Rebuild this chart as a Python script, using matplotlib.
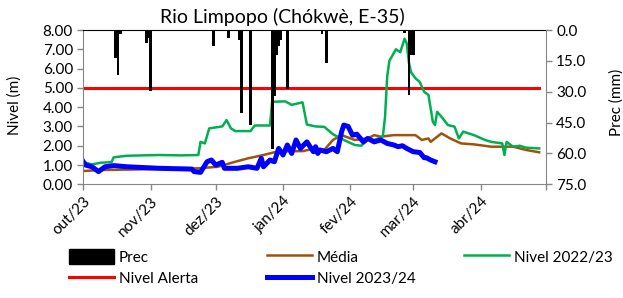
import pandas as pd
import matplotlib
matplotlib.use("Agg")
import matplotlib.pyplot as plt
from matplotlib.patches import Patch
from matplotlib.lines import Line2D
from matplotlib.ticker import FormatStrFormatter

plt.rcParams['font.family'] = ['Lato', 'DejaVu Sans']

# precipitation (mm), hanging bars on the inverted right axis
prec_dates = ['2023-10-16', '2023-10-17', '2023-10-18', '2023-10-30', '2023-10-31',
              '2023-11-01', '2023-11-30', '2023-12-07', '2023-12-12', '2023-12-13',
              '2023-12-17', '2023-12-27', '2023-12-28', '2023-12-29', '2023-12-30',
              '2023-12-31', '2024-01-03', '2024-01-19', '2024-01-21', '2024-02-26',
              '2024-02-28', '2024-02-29', '2024-03-01']
prec_mm = [13.5, 22.0, 2.0, 6.5, 4.0,
           29.5, 8.0, 4.0, 5.0, 40.5,
           46.0, 58.0, 32.0, 12.0, 8.0,
           5.0, 28.5, 2.0, 16.0, 1.5,
           31.5, 12.0, 12.0]

# Média
media_dates = ['2023-10-01', '2023-10-09', '2023-11-05', '2023-11-23', '2023-12-02',
               '2023-12-10', '2023-12-16', '2023-12-23', '2023-12-29', '2024-01-04',
               '2024-01-10', '2024-01-16', '2024-01-20', '2024-01-24', '2024-01-28',
               '2024-02-03', '2024-02-09', '2024-02-12', '2024-02-15', '2024-02-21',
               '2024-03-02', '2024-03-05', '2024-03-08', '2024-03-09', '2024-03-14',
               '2024-03-18', '2024-03-23', '2024-03-29', '2024-04-06', '2024-04-16',
               '2024-04-22', '2024-04-28']
media = [0.69, 0.74, 0.79, 0.83, 0.91,
         1.17, 1.35, 1.52, 1.69, 1.72,
         1.72, 1.86, 1.78, 2.30, 2.55,
         2.30, 2.38, 2.55, 2.47, 2.55,
         2.55, 2.30, 2.38, 2.20, 2.64,
         2.38, 2.12, 2.07, 1.95, 1.95,
         1.78, 1.66]

# Nivel 2022/23
n2223_dates = ['2023-10-02', '2023-10-05', '2023-10-09', '2023-10-14', '2023-10-15',
               '2023-10-21', '2023-11-05', '2023-11-15', '2023-11-23', '2023-11-24',
               '2023-11-26', '2023-11-28', '2023-12-01', '2023-12-04', '2023-12-06',
               '2023-12-08', '2023-12-10', '2023-12-17', '2023-12-19', '2023-12-26',
               '2023-12-27', '2024-01-02', '2024-01-05', '2024-01-10', '2024-01-12',
               '2024-01-16', '2024-01-20', '2024-01-24', '2024-01-29', '2024-02-03',
               '2024-02-06', '2024-02-09', '2024-02-12', '2024-02-15', '2024-02-16',
               '2024-02-17', '2024-02-18', '2024-02-19', '2024-02-20', '2024-02-22',
               '2024-02-24', '2024-02-26', '2024-02-27', '2024-02-28', '2024-02-29',
               '2024-03-02', '2024-03-04', '2024-03-06', '2024-03-08', '2024-03-09',
               '2024-03-10', '2024-03-11', '2024-03-12', '2024-03-14', '2024-03-17',
               '2024-03-20', '2024-03-22', '2024-03-24', '2024-03-29', '2024-04-03',
               '2024-04-06', '2024-04-11', '2024-04-12', '2024-04-13', '2024-04-16',
               '2024-04-19', '2024-04-22', '2024-04-28']
n2223 = [1.12, 1.03, 1.12, 1.15, 1.40,
         1.48, 1.52, 1.50, 1.52, 2.20,
         2.12, 2.90, 2.95, 3.00, 3.33,
         2.90, 2.76, 2.76, 3.05, 3.05,
         4.28, 4.30, 4.12, 4.25, 3.10,
         3.00, 2.98, 2.60, 2.30, 2.04,
         2.00, 2.30, 2.30, 2.42, 2.50,
         3.50, 5.60, 6.40, 6.60, 7.00,
         6.85, 7.55, 7.30, 6.30, 5.80,
         5.50, 5.30, 4.80, 4.63, 3.94,
         3.25, 3.07, 3.76, 3.50, 3.07,
         2.99, 2.38, 2.73, 2.55, 2.30,
         2.20, 2.12, 1.52, 2.20, 1.95,
         2.00, 1.90, 1.86]

# Nivel 2023/24
n2324_dates = ['2023-10-01', '2023-10-02', '2023-10-05', '2023-10-08', '2023-10-11',
               '2023-10-15', '2023-10-21', '2023-11-05', '2023-11-20', '2023-11-21',
               '2023-11-24', '2023-11-27', '2023-11-29', '2023-12-01', '2023-12-04',
               '2023-12-05', '2023-12-11', '2023-12-16', '2023-12-20', '2023-12-22',
               '2023-12-23', '2023-12-26', '2023-12-28', '2023-12-30', '2024-01-01',
               '2024-01-03', '2024-01-05', '2024-01-07', '2024-01-09', '2024-01-12',
               '2024-01-15', '2024-01-16', '2024-01-17', '2024-01-18', '2024-01-21',
               '2024-01-24', '2024-01-26', '2024-01-28', '2024-01-29', '2024-01-31',
               '2024-02-02', '2024-02-04', '2024-02-07', '2024-02-09', '2024-02-12',
               '2024-02-15', '2024-02-18', '2024-02-21', '2024-02-23', '2024-02-25',
               '2024-02-27', '2024-03-01', '2024-03-04', '2024-03-06', '2024-03-07',
               '2024-03-09', '2024-03-11']
n2324 = [1.17, 1.00, 0.91, 0.66, 0.91,
         0.97, 0.91, 0.83, 0.79, 0.66,
         0.62, 1.17, 1.26, 1.00, 1.14,
         0.83, 0.83, 0.91, 0.83, 1.35,
         0.91, 1.26, 1.17, 1.86, 1.52,
         2.04, 1.60, 2.30, 1.86, 2.20,
         1.69, 1.95, 1.60, 1.78, 1.69,
         1.86, 1.69, 2.73, 3.07, 3.00,
         2.55, 2.60, 2.20, 2.38, 2.20,
         2.30, 2.12, 2.04, 1.95, 2.00,
         1.86, 1.69, 1.65, 1.38, 1.38,
         1.26, 1.17]

alert_level = 5.0
alert_range = ['2023-10-01', '2024-04-28']

month_ticks = ['2023-10-01', '2023-11-01', '2023-12-01', '2024-01-01', '2024-02-01',
               '2024-03-01', '2024-04-01', '2024-05-01']
month_labels = ['out/23', 'nov/23', 'dez/23', 'jan/24', 'fev/24', 'mar/24', 'abr/24', '']

axis_gray = '#868686'
c_red, c_brown, c_green, c_blue = '#FF0000', '#A0520D', '#00B050', '#0000FF'

fig = plt.figure(figsize=(6.23, 2.98), dpi=100)
ax = fig.add_axes([0.1337, 0.3815, 0.7422, 0.5178])
ax2 = ax.twinx()

ax.plot(pd.to_datetime(alert_range), [alert_level, alert_level], color=c_red, lw=2.2)
ax.plot(pd.to_datetime(media_dates), media, color=c_brown, lw=1.8)
ax.plot(pd.to_datetime(n2223_dates), n2223, color=c_green, lw=1.8)
ax.plot(pd.to_datetime(n2324_dates), n2324, color=c_blue, lw=3.6)

ax2.bar(pd.to_datetime(prec_dates), prec_mm, width=1.3, color='black')

ax.set_xlim(pd.Timestamp('2023-10-01'), pd.Timestamp('2024-05-01'))
ax.set_ylim(0, 8)
ax.set_yticks(range(0, 9))
ax.yaxis.set_major_formatter(FormatStrFormatter('%.2f'))
ax2.set_ylim(75, 0)
ax2.set_yticks([0, 15, 30, 45, 60, 75])
ax2.yaxis.set_major_formatter(FormatStrFormatter('%.1f'))

ax.set_xticks(pd.to_datetime(month_ticks))
ax.set_xticklabels(month_labels, rotation=45, ha='right', rotation_mode='anchor')

for a in (ax, ax2):
    a.tick_params(colors=axis_gray, labelcolor='black', labelsize=11, length=4, width=1)
ax.tick_params(axis='x', pad=3)

for s in ('left', 'bottom'):
    ax.spines[s].set_color(axis_gray)
ax.spines['right'].set_visible(False)
ax.spines['top'].set_color('black')
ax2.spines['right'].set_color(axis_gray)
for s in ('left', 'bottom', 'top'):
    ax2.spines[s].set_visible(False)

fig.text(0.4527, 0.943, 'Rio Limpopo (Chókwè, E-35)', ha='center', va='center', fontsize=14)
fig.text(0.024, 0.648, 'Nivel (m)', rotation=90, ha='center', va='center', fontsize=11)
fig.text(0.99, 0.655, 'Prec (mm)', rotation=90, ha='center', va='center', fontsize=11)

# legend in three columns, placed one by one like the Excel legend
leg_kw = dict(loc='upper left', frameon=False, fontsize=11, handlelength=3.0,
              handleheight=1.15, handletextpad=0.3, borderpad=0, borderaxespad=0,
              labelspacing=0.4)
fig.legend([Patch(facecolor='black', edgecolor='black'), Line2D([], [], color=c_red, lw=2.2)],
           ['Prec', 'Nivel Alerta'], bbox_to_anchor=(0.110, 0.165), **leg_kw)
fig.legend([Line2D([], [], color=c_brown, lw=1.8), Line2D([], [], color=c_blue, lw=3.6)],
           ['Média', 'Nivel 2023/24'], bbox_to_anchor=(0.428, 0.165), **leg_kw)
fig.legend([Line2D([], [], color=c_green, lw=1.8)],
           ['Nivel 2022/23'], bbox_to_anchor=(0.744, 0.165), **leg_kw)

fig.savefig('out.png', dpi=100)
